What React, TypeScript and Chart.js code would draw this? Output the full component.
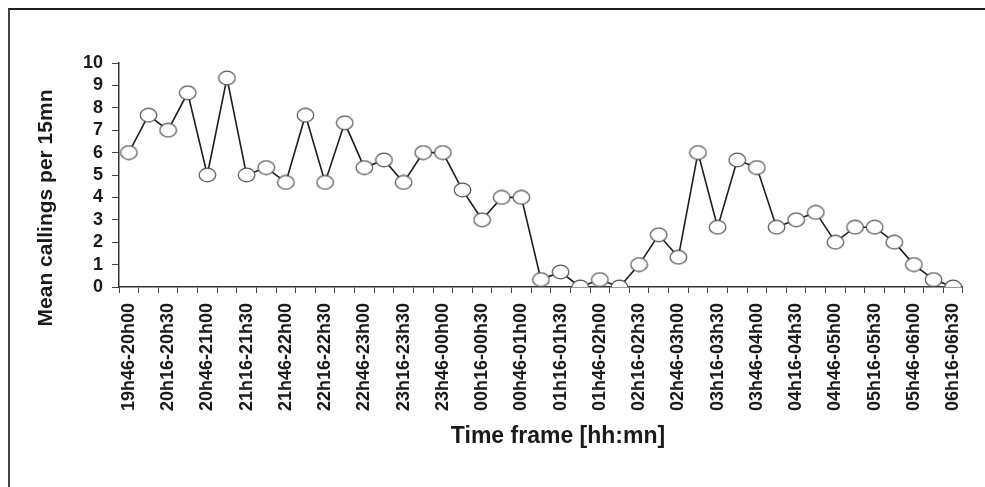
import { useEffect, useRef } from 'react';
import { Chart, registerables } from 'chart.js';

Chart.register(...registerables);

const categories: string[] = [
  '19h46-20h00', '20h01-20h15', '20h16-20h30', '20h31-20h45', '20h46-21h00',
  '21h01-21h15', '21h16-21h30', '21h31-21h45', '21h46-22h00', '22h01-22h15',
  '22h16-22h30', '22h31-22h45', '22h46-23h00', '23h01-23h15', '23h16-23h30',
  '23h31-23h45', '23h46-00h00', '00h01-00h15', '00h16-00h30', '00h31-00h45',
  '00h46-01h00', '01h01-01h15', '01h16-01h30', '01h31-01h45', '01h46-02h00',
  '02h01-02h15', '02h16-02h30', '02h31-02h45', '02h46-03h00', '03h01-03h15',
  '03h16-03h30', '03h31-03h45', '03h46-04h00', '04h01-04h15', '04h16-04h30',
  '04h31-04h45', '04h46-05h00', '05h01-05h15', '05h16-05h30', '05h31-05h45',
  '05h46-06h00', '06h01-06h15', '06h16-06h30',
];

const meanCallings: number[] = [
  6, 7.67, 7, 8.67, 5, 9.33, 5, 5.33, 4.67, 7.67,
  4.67, 7.33, 5.33, 5.67, 4.67, 6, 6, 4.33, 3, 4,
  4, 0.33, 0.67, 0, 0.33, 0, 1, 2.33, 1.33, 6,
  2.67, 5.67, 5.33, 2.67, 3, 3.33, 2, 2.67, 2.67, 2,
  1, 0.33, 0,
];

const yMin = 0;
const yMax = 10;
const yStep = 1;

const xTitle = 'Time frame [hh:mn]';
const yTitle = 'Mean callings per 15mn';

const FONT = "'Liberation Sans', Arial, sans-serif";

function makeMarker(): HTMLCanvasElement {
  const c = document.createElement('canvas');
  c.width = 19;
  c.height = 16;
  const g = c.getContext('2d')!;
  g.beginPath();
  g.ellipse(9.5, 8, 8.3, 6.8, 0, 0, Math.PI * 2);
  g.fillStyle = '#ffffff';
  g.fill();
  g.lineWidth = 1.2;
  g.strokeStyle = '#555555';
  g.stroke();
  return c;
}

const titlesPlugin = {
  id: 'titlesDraw',
  afterDraw(chart: any) {
    const ctx = chart.ctx as CanvasRenderingContext2D;
    ctx.save();
    ctx.fillStyle = '#1a1a1a';
    ctx.textAlign = 'center';
    ctx.textBaseline = 'middle';
    ctx.font = `bold 23px ${FONT}`;
    ctx.fillText(xTitle, 558, 437);
    ctx.translate(46, 208);
    ctx.rotate(-Math.PI / 2);
    ctx.font = `bold 21px ${FONT}`;
    ctx.fillText(yTitle, 0, 0);
    ctx.restore();
  },
};

export default function App() {
  const ref = useRef<HTMLCanvasElement>(null);

  useEffect(() => {
    const canvas = ref.current;
    if (!canvas) return;
    const marker = makeMarker();
    const chart = new Chart(canvas, {
      type: 'line',
      data: {
        labels: categories,
        datasets: [
          {
            data: meanCallings,
            borderColor: '#1e1e1e',
            borderWidth: 1.6,
            tension: 0,
            pointStyle: marker as any,
            pointRadius: 8,
          },
        ],
      },
      options: {
        animation: false,
        responsive: false,
        layout: { padding: { left: 0, top: 63, right: 22, bottom: 0 } },
        plugins: {
          legend: { display: false },
          tooltip: { enabled: false },
        },
        scales: {
          x: {
            type: 'category',
            offset: true,
            grid: {
              offset: true,
              drawOnChartArea: false,
              drawTicks: true,
              tickLength: 6,
              color: '#444444',
            },
            border: { color: '#333333', width: 1.5 },
            ticks: {
              autoSkip: false,
              maxRotation: 90,
              minRotation: 90,
              padding: 10,
              color: '#1a1a1a',
              font: { family: FONT, size: 18, weight: 'bold' },
              callback: (_v: any, i: number) => (i % 2 === 0 ? categories[i] : ''),
            },
            afterFit: (s: any) => {
              s.height = 200;
            },
          },
          y: {
            min: yMin,
            max: yMax,
            grid: {
              drawOnChartArea: false,
              drawTicks: true,
              tickLength: 7,
              color: '#444444',
            },
            border: { color: '#333333', width: 1.5 },
            ticks: {
              stepSize: yStep,
              autoSkip: false,
              padding: 9,
              color: '#1a1a1a',
              font: { family: FONT, size: 18, weight: 'bold' },
            },
            afterFit: (s: any) => {
              s.width = 119;
            },
          },
        },
      },
      plugins: [titlesPlugin],
    });
    return () => chart.destroy();
  }, []);

  return (
    <div style={{ position: 'fixed', left: 0, top: 0, width: 985, height: 487, background: '#ffffff' }}>
      <div
        style={{
          position: 'absolute',
          left: 8,
          top: 8,
          right: 0,
          bottom: 0,
          borderTop: '2px solid #1e1e1e',
          borderLeft: '2px solid #444444',
        }}
      />
      <canvas ref={ref} width={985} height={487} style={{ position: 'absolute', left: 0, top: 0 }} />
    </div>
  );
}
